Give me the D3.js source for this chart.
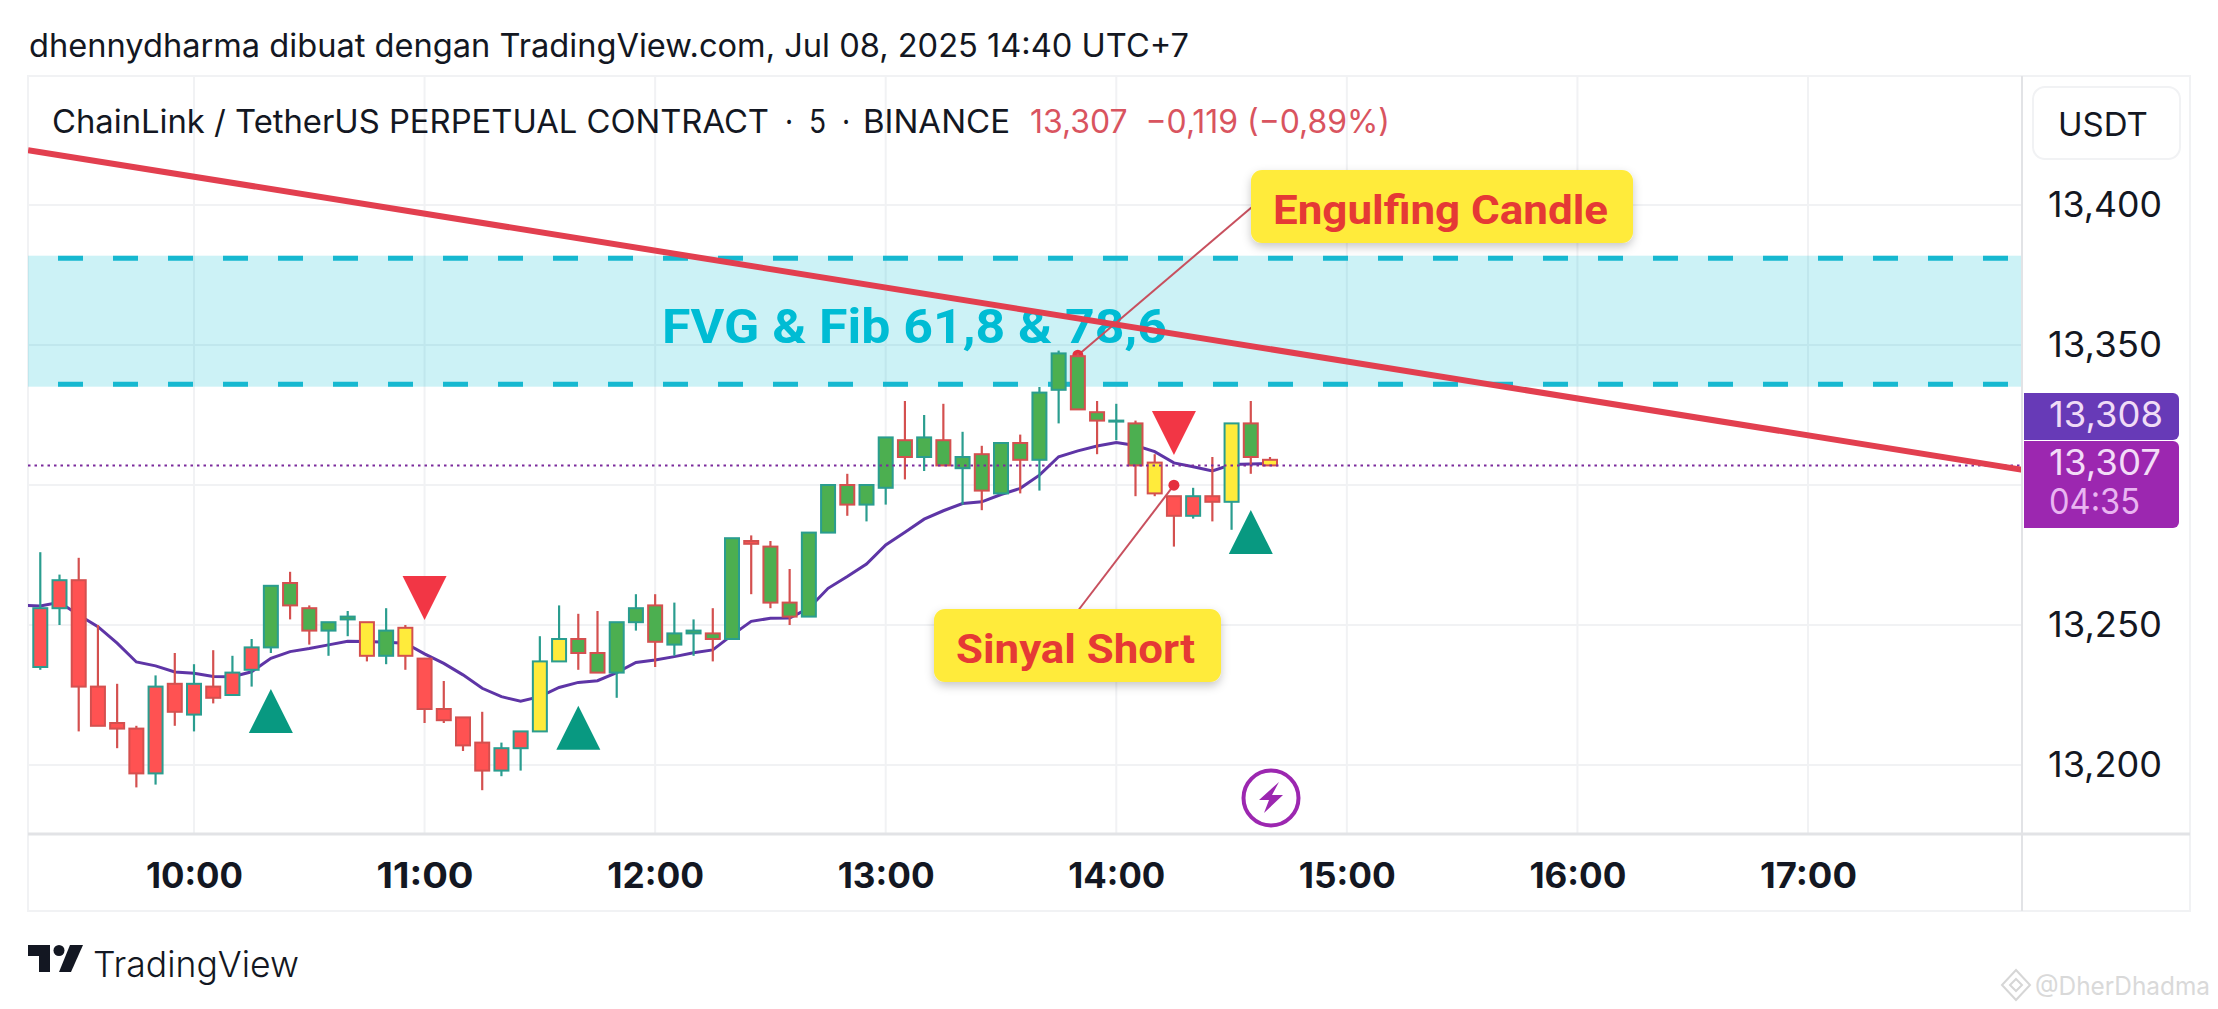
<!DOCTYPE html>
<html>
<head>
<meta charset="utf-8">
<script src="https://cdn.jsdelivr.net/npm/d3@7"></script>
<style>
html,body{margin:0;padding:0;background:#fff;}
svg{display:block;}
text{font-family:Inter,Roboto,sans-serif;}
</style>
</head>
<body>
<svg id="chart" width="2218" height="1009"></svg>
<script>
// ---- data ----
const firstCandle = Date.UTC(2025,6,8,9,20);   // candle spacing 5 minutes
const open  = [13.235,13.256,13.266,13.228,13.215,13.213,13.197,13.229,13.218,13.228,13.225,13.234,13.242,13.265,13.256,13.248,13.252,13.251,13.239,13.249,13.238,13.220,13.217,13.208,13.198,13.206,13.212,13.237,13.245,13.240,13.233,13.251,13.257,13.243,13.247,13.247,13.245,13.280,13.278,13.258,13.253,13.283,13.300,13.293,13.299,13.316,13.310,13.316,13.306,13.311,13.297,13.315,13.309,13.334,13.346,13.326,13.323,13.322,13.308,13.296,13.289,13.296,13.294,13.322,13.309];
const high  = [13.276,13.268,13.274,13.250,13.229,13.214,13.232,13.240,13.236,13.241,13.239,13.245,13.264,13.269,13.257,13.251,13.255,13.251,13.256,13.250,13.238,13.230,13.217,13.219,13.208,13.212,13.246,13.257,13.254,13.255,13.251,13.261,13.261,13.258,13.252,13.256,13.281,13.282,13.280,13.270,13.283,13.300,13.304,13.300,13.317,13.330,13.325,13.329,13.319,13.314,13.315,13.318,13.335,13.348,13.347,13.330,13.329,13.323,13.311,13.296,13.299,13.310,13.322,13.330,13.310];
const low   = [13.234,13.250,13.212,13.214,13.206,13.192,13.193,13.214,13.212,13.222,13.225,13.228,13.240,13.252,13.243,13.239,13.246,13.237,13.236,13.234,13.215,13.215,13.205,13.191,13.196,13.198,13.212,13.237,13.234,13.233,13.224,13.248,13.235,13.239,13.239,13.237,13.245,13.261,13.256,13.250,13.253,13.283,13.289,13.287,13.293,13.302,13.305,13.307,13.293,13.291,13.297,13.297,13.298,13.322,13.327,13.311,13.316,13.296,13.296,13.278,13.288,13.287,13.284,13.304,13.307];
const close = [13.256,13.266,13.228,13.214,13.213,13.197,13.228,13.219,13.229,13.224,13.233,13.242,13.264,13.257,13.248,13.251,13.253,13.239,13.248,13.239,13.220,13.216,13.207,13.198,13.206,13.212,13.237,13.245,13.240,13.233,13.251,13.256,13.244,13.247,13.248,13.245,13.281,13.279,13.258,13.253,13.283,13.300,13.293,13.300,13.317,13.310,13.317,13.307,13.310,13.298,13.315,13.309,13.333,13.347,13.327,13.323,13.323,13.307,13.297,13.289,13.296,13.294,13.322,13.310,13.307];
const bodyKind = "RRRRRRRRRRRRGGGGGYGYRRRRRRYYGGGGGGGGGRGGGGGGGGGGGGGGGGGGGGYRRRYGY".split("");
// moving average, starting one candle before the first visible candle
const maValues = [13.2570,13.2568,13.2581,13.2536,13.2494,13.2435,13.2368,13.2354,13.2332,13.2328,13.2316,13.2315,13.2333,13.2381,13.2405,13.2416,13.2429,13.2442,13.2441,13.2438,13.2435,13.2397,13.2363,13.2322,13.2274,13.2244,13.2228,13.2244,13.2277,13.2295,13.2301,13.2330,13.2366,13.2375,13.2387,13.2401,13.2411,13.2464,13.2513,13.2524,13.2525,13.2560,13.2631,13.2673,13.2718,13.2786,13.2831,13.2878,13.2908,13.2934,13.2940,13.2966,13.2988,13.3035,13.3101,13.3122,13.3139,13.3152,13.3141,13.3119,13.3079,13.3065,13.3050,13.3073,13.3075,13.3077];
const priceTicks = [13.2,13.25,13.3,13.35,13.4];
const priceTicksLabelled = [13.2,13.25,13.35,13.4];
const timeTickHours = [10,11,12,13,14,15,16,17];
const fvgTop = 13.381, fvgBottom = 13.336;
const trendPrices = [13.4196,13.3054];
const trendTimes  = [Date.UTC(2025,6,8,9,16,50), Date.UTC(2025,6,8,17,56)];
const lastPrice = 13.307, maLast = 13.308;
const upSignalCandles = [12,28,63], upSignalApex = [13.2271,13.2212,13.2911];
const downSignalCandles = [20,59], downSignalApex = [13.2518,13.3107];
const eventCandle = 64;
const titleText = "dhennydharma dibuat dengan TradingView.com, Jul 08, 2025 14:40 UTC+7";
const legendName = "ChainLink / TetherUS PERPETUAL CONTRACT";
const legendInterval = "·  5  ·";
const legendExchange = "BINANCE";
const legendValues = "13,307  −0,119 (−0,89%)";
const zoneLabel = "FVG & Fib 61,8 & 78,6";
const countdown = "04:35";
const calloutEngulf = "Engulfing Candle", calloutShort = "Sinyal Short";

// ---- layout ----
const L=28, R=2022, T=76, AX=834, FR=2190, FB=911;
const timeOf = i => firstCandle + i*300000;
const y = d3.scaleLinear().domain([13.2,13.4]).range([765,205]);
const x = d3.scaleUtc().domain([Date.UTC(2025,6,8,10),Date.UTC(2025,6,8,17)]).range([194,1808]);
const px = i => x(timeOf(i));
const fmt = d => d3.format(".3f")(d).replace(".",",");
const ink="#131722", grid="#f1f2f4", axisCol="#e2e3e6";
const colTeal="#2a9d8f", colRed="#d4504f";
const fills={R:"#ff5252",G:"#4caf50",Y:"#ffeb3b"};

const svg=d3.select("#chart");
const defs=svg.append("defs");
defs.append("clipPath").attr("id","plot").append("rect").attr("x",L).attr("y",T).attr("width",R-L).attr("height",AX-T);
const sh=defs.append("filter").attr("id","shadow").attr("x","-20%").attr("y","-30%").attr("width","140%").attr("height","170%");
sh.append("feDropShadow").attr("dx",0).attr("dy",4).attr("stdDeviation",5).attr("flood-color","#000").attr("flood-opacity",0.22);

svg.append("rect").attr("width",2218).attr("height",1009).attr("fill","#fff");
svg.append("text").attr("x",29).attr("y",57).attr("font-size",32).attr("fill",ink).attr("textLength",1160).attr("lengthAdjust","spacingAndGlyphs").text(titleText);

// frame
svg.append("rect").attr("x",L).attr("y",T).attr("width",FR-L).attr("height",FB-T).attr("fill","none").attr("stroke",grid).attr("stroke-width",2);

// grid
const hours=timeTickHours.map(h=>Date.UTC(2025,6,8,h));
svg.append("g").selectAll("line").data(hours).join("line")
  .attr("x1",d=>x(d)).attr("x2",d=>x(d)).attr("y1",T).attr("y2",AX).attr("stroke",grid).attr("stroke-width",2);
svg.append("g").selectAll("line").data(priceTicks).join("line")
  .attr("x1",L).attr("x2",R).attr("y1",d=>y(d)).attr("y2",d=>y(d)).attr("stroke",grid).attr("stroke-width",2);

// FVG zone
const plot=svg.append("g").attr("clip-path","url(#plot)");
plot.append("rect").attr("x",L).attr("width",R-L).attr("y",y(fvgTop)-2.5).attr("height",y(fvgBottom)-y(fvgTop)+5).attr("fill","#00bcd4").attr("fill-opacity",0.2);
plot.selectAll(".dash").data([fvgTop,fvgBottom]).join("line").attr("class","dash")
  .attr("x1",L).attr("x2",R).attr("y1",d=>y(d)).attr("y2",d=>y(d))
  .attr("stroke","#16b8d0").attr("stroke-width",5).attr("stroke-dasharray","25 30").attr("stroke-dashoffset",25);
plot.append("text").attr("x",662).attr("y",343).attr("font-size",48).attr("font-weight",700).attr("fill","#00bcd4")
  .style("font-family","Roboto").attr("textLength",505).attr("lengthAdjust","spacingAndGlyphs").text(zoneLabel);

// callout leaders and dots
const engX=px(54), engY=y(open[54])-1, shX=px(59), shY=y(open[59])-11;
plot.append("line").attr("x1",1252).attr("y1",207).attr("x2",engX).attr("y2",engY).attr("stroke","#c8505e").attr("stroke-width",2);
plot.append("line").attr("x1",1077).attr("y1",612).attr("x2",shX).attr("y2",shY).attr("stroke","#c8505e").attr("stroke-width",2);
plot.selectAll(".dot").data([[engX,engY],[shX,shY]]).join("circle").attr("class","dot").attr("cx",d=>d[0]).attr("cy",d=>d[1]).attr("r",5.5).attr("fill","#e5303f");

// moving average
const maLine=d3.line().x((d,i)=>px(i-1)).y(d=>y(d)).curve(d3.curveLinear);
plot.append("path").attr("d",maLine(maValues)).attr("fill","none").attr("stroke","#5e35a6").attr("stroke-width",3);

// candles
const candles=d3.range(open.length);
const col=i=>close[i]>=open[i]?colTeal:colRed;
plot.append("g").selectAll("line").data(candles).join("line")
  .attr("x1",px).attr("x2",px).attr("y1",i=>y(high[i])).attr("y2",i=>y(low[i])).attr("stroke",col).attr("stroke-width",2.2);
plot.append("g").selectAll("rect").data(candles).join("rect")
  .attr("x",i=>px(i)-7).attr("width",14)
  .attr("y",i=>y(Math.max(open[i],close[i])))
  .attr("height",i=>Math.max(1,Math.abs(y(open[i])-y(close[i]))))
  .attr("fill",i=>fills[bodyKind[i]]).attr("stroke",col).attr("stroke-width",2);

// last price dotted line
plot.append("line").attr("x1",L).attr("x2",R).attr("y1",y(lastPrice)).attr("y2",y(lastPrice))
  .attr("stroke","#7b2a9c").attr("stroke-width",2).attr("stroke-dasharray","2.5 4");

// trend line
plot.append("line").attr("x1",x(trendTimes[0])).attr("x2",x(trendTimes[1])).attr("y1",y(trendPrices[0])).attr("y2",y(trendPrices[1]))
  .attr("stroke","#e23f4f").attr("stroke-width",6);

// signal triangles
const tri=(cx,ay,dir)=>`M${cx},${ay}L${cx-22},${ay+dir*44}L${cx+22},${ay+dir*44}Z`;
plot.append("g").selectAll("path").data(upSignalCandles).join("path").attr("d",(c,k)=>tri(px(c),y(upSignalApex[k]),1)).attr("fill","#089981");
plot.append("g").selectAll("path").data(downSignalCandles).join("path").attr("d",(c,k)=>tri(px(c),y(downSignalApex[k]),-1)).attr("fill","#f23645");

// lightning event
const ev=plot.append("g").attr("transform",`translate(${px(eventCandle)+1},798)`);
ev.append("circle").attr("r",27.5).attr("fill","#fff").attr("stroke","#9c27b0").attr("stroke-width",4);
ev.append("path").attr("d","M8,-16L-12,2L-2,2L-7,15L12,-3L1,-3Z").attr("fill","#9c27b0");

// callouts
function callout(bx,by,bw,bh,tx,tb,tw,str){
  svg.append("rect").attr("x",bx).attr("y",by).attr("width",bw).attr("height",bh).attr("rx",11).attr("fill","#ffeb3b").attr("filter","url(#shadow)");
  svg.append("text").attr("x",tx).attr("y",tb).attr("font-size",41).attr("font-weight",700).attr("fill","#e53935")
    .style("font-family","Roboto").attr("textLength",tw).attr("lengthAdjust","spacingAndGlyphs").text(str);
}
callout(1251,170,382,73,1273,224,335,calloutEngulf);
callout(934,609,287,73,956,663,239,calloutShort);

// legend
const legendPart=(lx,w,str,c)=>svg.append("text").attr("x",lx).attr("y",133).attr("font-size",32).attr("fill",c).style("white-space","pre").attr("textLength",w).attr("lengthAdjust","spacingAndGlyphs").text(str);
legendPart(52,717,legendName,ink);
legendPart(785,65,legendInterval,ink);
legendPart(863,147,legendExchange,ink);
legendPart(1030,360,legendValues,"#d9545f");

// axes lines
svg.append("line").attr("x1",R).attr("x2",R).attr("y1",T).attr("y2",FB).attr("stroke",axisCol).attr("stroke-width",2);
svg.append("line").attr("x1",L).attr("x2",FR).attr("y1",AX).attr("y2",AX).attr("stroke",axisCol).attr("stroke-width",3);

// price axis
const yAxis=d3.axisRight(y).tickValues(priceTicksLabelled).tickFormat(fmt).tickSize(0).tickPadding(26);
const yg=svg.append("g").attr("transform",`translate(${R},0)`).call(yAxis);
yg.select(".domain").remove();
yg.selectAll("text").attr("font-size",35).attr("fill",ink).style("font-family","Inter").attr("textLength",114).attr("lengthAdjust","spacingAndGlyphs");

// time axis
const xAxis=d3.axisBottom(x).tickValues(hours).tickFormat(d3.utcFormat("%H:%M")).tickSize(0).tickPadding(29);
const xg=svg.append("g").attr("transform",`translate(0,${AX})`).call(xAxis);
xg.select(".domain").remove();
xg.selectAll("text").attr("font-size",35).attr("font-weight",700).attr("fill",ink).style("font-family","Inter").attr("textLength",97).attr("lengthAdjust","spacingAndGlyphs");

// USDT box
svg.append("rect").attr("x",2033).attr("y",87).attr("width",147).attr("height",72).attr("rx",12).attr("fill","#fff").attr("stroke",grid).attr("stroke-width",2);
svg.append("text").attr("x",2103).attr("y",136).attr("text-anchor","middle").attr("font-size",33).attr("fill",ink).text("USDT");

// price labels
const lab=(yy,h)=>`M2024,${yy}H${2179-6}a6,6 0 0 1 6,6V${yy+h-6}a6,6 0 0 1 -6,6H2024Z`;
svg.append("path").attr("d",lab(393,47)).attr("fill","#673ab7");
svg.append("path").attr("d",lab(441,87)).attr("fill","#9c27b0");
const tag=(yy,col,str,w)=>svg.append("text").attr("x",2049).attr("y",yy).attr("font-size",35).attr("fill",col).attr("textLength",w).attr("lengthAdjust","spacingAndGlyphs").text(str);
tag(427,"#f0dcf6",fmt(maLast),114);
tag(475,"#f3dcf7",fmt(lastPrice),112);
tag(514,"#e9b5f1",countdown,91);

// logo
const logo=svg.append("g").attr("fill",ink);
logo.append("path").attr("d","M28,945H50V972H39V956H28Z");
logo.append("circle").attr("cx",59).attr("cy",950.5).attr("r",5.5);
logo.append("path").attr("d","M70,945H83L71,972H59Z");
svg.append("text").attr("x",93).attr("y",977).attr("font-size",36).attr("font-weight",300).attr("fill",ink).attr("textLength",206).attr("lengthAdjust","spacingAndGlyphs").text("TradingView");

// watermark
const wm=svg.append("g").attr("fill","none").attr("stroke","#d6d6d6").attr("stroke-width",2);
wm.append("path").attr("d","M2016,970L2030,985L2016,1000L2002,985Z");
wm.append("path").attr("d","M2016,979L2022,985L2016,991L2010,985Z");
svg.append("text").attr("x",2035).attr("y",995).attr("font-size",25).attr("fill","#d9d9d9").attr("textLength",175).attr("lengthAdjust","spacingAndGlyphs").text("@DherDhadma");
</script>
</body>
</html>
